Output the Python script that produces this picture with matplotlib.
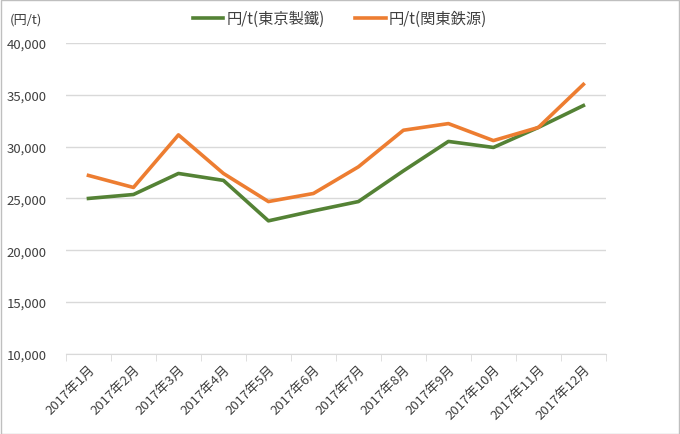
import matplotlib.pyplot as plt
from matplotlib.patches import Rectangle
from matplotlib.ticker import FuncFormatter, FixedLocator

plt.rcParams['font.family'] = ['Noto Sans CJK JP', 'DejaVu Sans']

# データ
months = ['2017年1月', '2017年2月', '2017年3月', '2017年4月', '2017年5月', '2017年6月',
          '2017年7月', '2017年8月', '2017年9月', '2017年10月', '2017年11月', '2017年12月']
tokyo_steel = [25000, 25380, 27410, 26740, 22840, 23800,
               24700, 27660, 30500, 29920, 31850, 33960]
kanto_tetsugen = [27220, 26060, 31130, 27410, 24700, 25480,
                  28050, 31580, 32220, 30580, 31850, 36000]
label_tokyo = '円/t(東京製鐵)'
label_kanto = '円/t(関東鉄源)'

fig = plt.figure(figsize=(6.8, 4.35), dpi=100)
ax = fig.add_axes([0.097, 0.184, 0.794, 0.715])

x = list(range(len(months)))
ax.plot(x, tokyo_steel, color='#548235', lw=2.6, label=label_tokyo, solid_joinstyle='round')
ax.plot(x, kanto_tetsugen, color='#ED7D31', lw=2.6, label=label_kanto, solid_joinstyle='round')

ax.set_xlim(-0.5, len(months) - 0.5)
ax.set_ylim(10000, 40000)
ax.set_yticks(range(10000, 40001, 5000))
ax.yaxis.set_major_formatter(FuncFormatter(lambda v, p: f'{int(v):,}'))
ax.grid(axis='y', color='#d9d9d9', lw=1)
ax.set_axisbelow(True)

ax.set_xticks(x)
ax.set_xticklabels(months, rotation=45, ha='right', rotation_mode='anchor', fontsize=9.5, color='#404040')
ax.xaxis.set_minor_locator(FixedLocator([i - 0.5 for i in range(len(months) + 1)]))
ax.tick_params(axis='x', which='major', length=0, pad=6)
ax.tick_params(axis='x', which='minor', length=5, color='#d9d9d9')
ax.tick_params(axis='y', length=0, labelsize=9.5, labelcolor='#404040', pad=14)

for s in ['top', 'right', 'left']:
    ax.spines[s].set_visible(False)
ax.spines['bottom'].set_color('#d9d9d9')

fig.text(0.015, 0.955, '(円/t)', fontsize=9.5, color='#404040', va='center')
fig.legend(loc='center', bbox_to_anchor=(0.5, 0.955), ncol=2, frameon=False,
           fontsize=11, handlelength=2.0, columnspacing=2.0, handletextpad=0.2,
           labelcolor='#404040')

fig.patches.append(Rectangle((0.001, 0.001), 0.997, 0.997, transform=fig.transFigure,
                             fill=False, edgecolor='#bfbfbf', lw=1))

fig.savefig('out.png', dpi=100)
